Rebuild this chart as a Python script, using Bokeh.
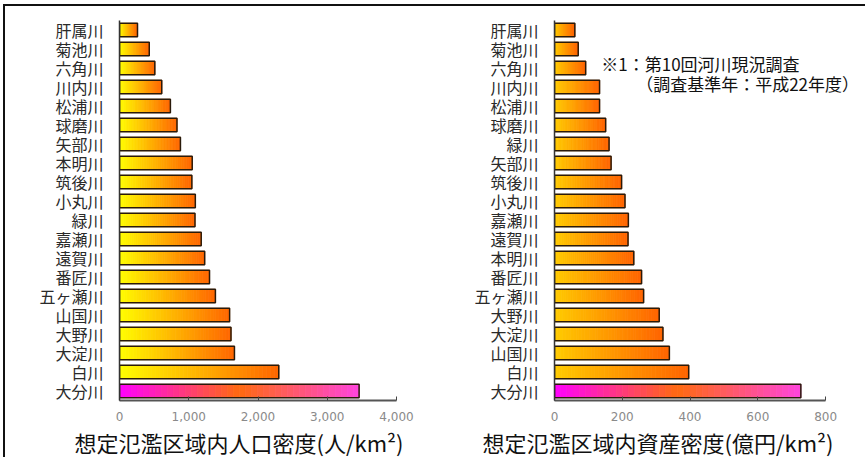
from bokeh.plotting import figure
from bokeh.layouts import row
from bokeh.models import Range1d, FactorRange, NumeralTickFormatter, FixedTicker, Title, Label
from bokeh.embed import file_html
from bokeh.resources import INLINE

# ---------------- data ----------------
pop_rivers = ["肝属川", "菊池川", "六角川", "川内川", "松浦川", "球磨川", "矢部川", "本明川",
              "筑後川", "小丸川", "緑川", "嘉瀬川", "遠賀川", "番匠川", "五ヶ瀬川", "山国川",
              "大野川", "大淀川", "白川", "大分川"]
pop_values = [260, 430, 510, 610, 735, 830, 880, 1050, 1045, 1095, 1090, 1180, 1230, 1300,
              1385, 1590, 1610, 1660, 2300, 3460]
pop_ticks = [0, 1000, 2000, 3000, 4000]
pop_title = "想定氾濫区域内人口密度(人/km²)"

asset_rivers = ["肝属川", "菊池川", "六角川", "川内川", "松浦川", "球磨川", "緑川", "矢部川",
                "筑後川", "小丸川", "嘉瀬川", "遠賀川", "本明川", "番匠川", "五ヶ瀬川", "大野川",
                "大淀川", "山国川", "白川", "大分川"]
asset_values = [60, 70, 92, 133, 133, 151, 161, 167, 198, 208, 218, 217, 234, 257, 263, 309,
                320, 339, 396, 727]
asset_ticks = [0, 200, 400, 600, 800]
asset_title = "想定氾濫区域内資産密度(億円/km²)"

highlight = "大分川"
note_line1 = "※1：第10回河川現況調査"
note_line2 = "（調査基準年：平成22年度）"

JP = "Noto Sans CJK JP"
N_SLICES = 40


def hex2rgb(h):
    h = h.lstrip("#")
    return tuple(int(h[i:i + 2], 16) for i in (0, 2, 4))


def grad(stops, t):
    for (p0, c0), (p1, c1) in zip(stops, stops[1:]):
        if t <= p1:
            u = (t - p0) / (p1 - p0)
            a, b = hex2rgb(c0), hex2rgb(c1)
            return "#%02x%02x%02x" % tuple(int(round(a[i] + (b[i] - a[i]) * u)) for i in range(3))
    return stops[-1][1]


def make_chart(names, values, ticks, title, normal_stops, width, left_border, right_border,
               x_end, title_offset):
    hl_stops = [(0.0, "#ff00ff"), (0.5, "#ff6a10"), (1.0, "#ff44dd")]
    p = figure(width=width, height=451, output_backend="svg", toolbar_location=None,
               y_range=FactorRange(*reversed(names)), x_range=Range1d(ticks[0], x_end),
               min_border_left=left_border, min_border_right=right_border,
               min_border_top=14, min_border_bottom=56)
    p.outline_line_color = None
    p.xgrid.grid_line_color = None
    p.ygrid.grid_line_color = None

    ys, lefts, rights, cols = [], [], [], []
    for n, v in zip(names, values):
        stops = hl_stops if n == highlight else normal_stops
        for k in range(N_SLICES):
            ys.append(n)
            lefts.append(v * k / N_SLICES)
            rights.append(v * (k + 1) / N_SLICES)
            cols.append(grad(stops, (k + 0.5) / N_SLICES))
    p.hbar(y=ys, left=lefts, right=rights, height=0.7, fill_color=cols,
           line_color=cols, line_width=0.8)
    p.hbar(y=names, left=0, right=values, height=0.7, fill_alpha=0,
           line_color="#2a1a0a", line_width=1.5)

    xa = p.xaxis[0]
    xa.ticker = FixedTicker(ticks=ticks)
    xa.bounds = (ticks[0], ticks[-1])
    xa.formatter = NumeralTickFormatter(format="0,0")
    xa.axis_line_color = "#555555"
    xa.axis_line_width = 2
    xa.major_tick_in = 4
    xa.major_tick_out = 0
    xa.major_tick_line_color = "#444444"
    xa.minor_tick_line_color = None
    xa.major_label_text_color = "#8a8a8a"
    xa.major_label_text_font = "DejaVu Sans"
    xa.major_label_text_font_size = "12px"
    xa.major_label_standoff = 11

    ya = p.yaxis[0]
    ya.axis_line_color = "#333333"
    ya.axis_line_width = 1.5
    ya.major_tick_in = 0
    ya.major_tick_out = 0
    ya.minor_tick_line_color = None
    ya.major_label_text_color = "#2a2a2a"
    ya.major_label_text_font = JP
    ya.major_label_text_font_size = "16px"
    ya.major_label_standoff = 16

    t = Title(text=title, align="left", offset=title_offset, text_font=JP,
              text_font_size="22px", text_font_style="normal", text_color="#111111",
              text_line_height=1.0, standoff=0)
    p.add_layout(t, "below")
    return p


p1 = make_chart(pop_rivers, pop_values, pop_ticks, pop_title,
                [(0.0, "#ffff00"), (1.0, "#ff6600")], 427, 114, 36, 4000, -45)
p2 = make_chart(asset_rivers, asset_values, asset_ticks, asset_title,
                [(0.0, "#ffcc00"), (1.0, "#ff6400")], 433, 122, 5, 903, -72)

p2.add_layout(Label(x=138, y=17.73, text=note_line1, text_font=JP, text_font_size="17px",
                    text_baseline="middle", text_color="#111111"))
p2.add_layout(Label(x=241, y=16.68, text=note_line2, text_font=JP, text_font_size="17px",
                    text_baseline="middle", text_color="#111111"))

layout = row(p1, p2, styles={"border-top": "2px solid #111111",
                             "border-left": "2px solid #111111",
                             "margin-left": "3px", "margin-top": "4px"})

open("out.html", "w").write(file_html(layout, INLINE))
